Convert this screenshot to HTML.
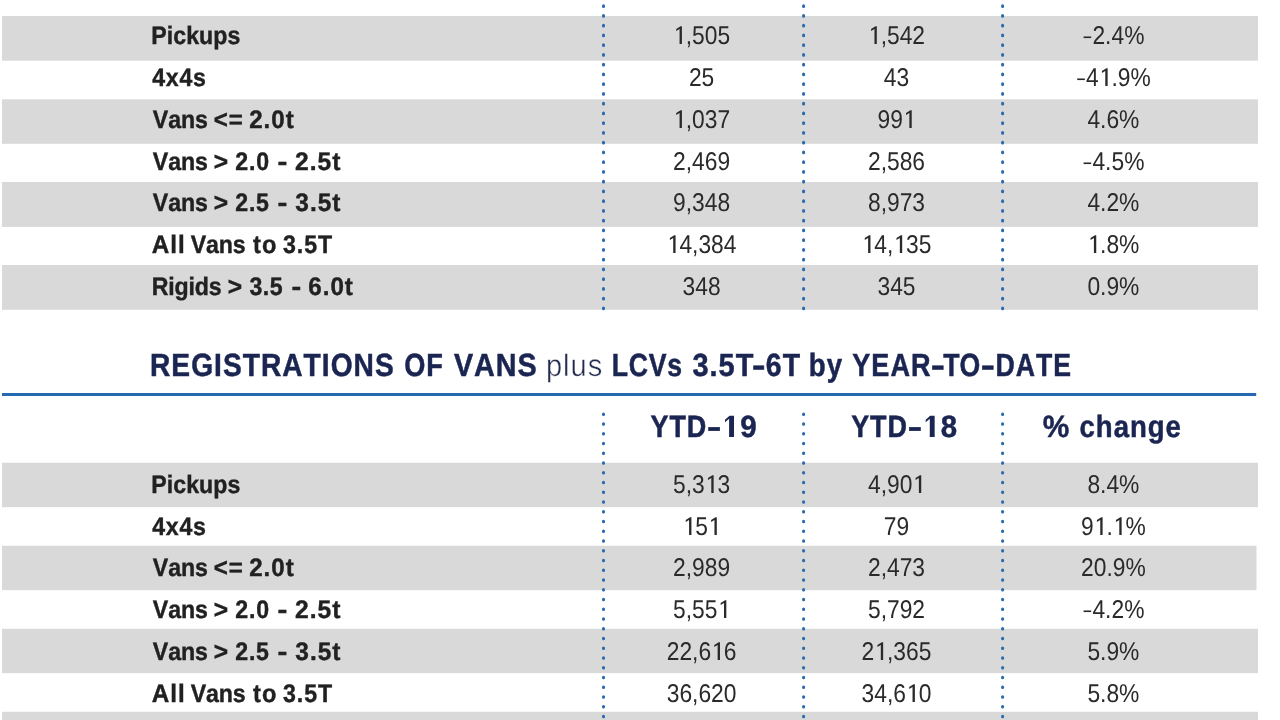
<!DOCTYPE html>
<html lang="en"><head><meta charset="utf-8"><title>Registrations of vans plus LCVs 3.5T-6T</title>
<style>
html,body{margin:0;padding:0;background:#fff;width:1280px;height:720px;overflow:hidden}
svg{display:block;position:absolute;left:0;top:0;will-change:transform}
text{font-family:"Liberation Sans",sans-serif;white-space:pre;font-kerning:none;text-rendering:geometricPrecision}
.lb{font-weight:700;fill:#212121;font-size:25.3px;stroke:#212121;stroke-width:0.4px}
.nm{font-weight:400;fill:#2a2a2a;font-size:25.7px}
.hd{font-weight:700;fill:#1b2552;font-size:32.1px;stroke:#1b2552;stroke-width:0.5px}
.hl{font-weight:400;fill:#232a4e;font-size:31px;stroke:#fff;stroke-width:0.45px}
.ch{font-weight:700;fill:#1b2552;font-size:30.8px;stroke:#1b2552;stroke-width:0.5px}
</style></head><body>
<svg width="1280" height="720" viewBox="0 0 1280 720">
<g fill="#d9d9d9">
<rect x="2.0" y="16.0" width="1256.0" height="44.7"/>
<rect x="2.0" y="99.3" width="1256.0" height="44.5"/>
<rect x="2.0" y="182.0" width="1256.0" height="44.9"/>
<rect x="2.0" y="265.0" width="1256.0" height="44.8"/>
<rect x="2.0" y="462.75" width="1256.0" height="44.4"/>
<rect x="2.0" y="545.75" width="1254.5" height="44.4"/>
<rect x="2.0" y="628.75" width="1256.0" height="44.4"/>
<rect x="2.0" y="711.75" width="1256.0" height="44.4"/>
</g>
<rect x="2" y="393" width="1254.2" height="3" fill="#2669b1"/>
<g fill="none" stroke="#2b6bb0" stroke-width="3.1" stroke-linecap="round" stroke-dasharray="0.5 9.25">
<path d="M603.50 5.9V309"/><path d="M603.50 414.05V724"/>
<path d="M803.60 5.9V309"/><path d="M803.60 414.05V724"/>
<path d="M1002.60 5.9V309"/><path d="M1002.60 414.05V724"/>
</g>
<g class="lb" transform="translate(151.35 44.00) scale(0.9150 1)" style="letter-spacing:0.040px"><text x="0.00">Pickups</text></g>
<g class="lb" transform="translate(152.25 86.00) scale(0.9150 1)" style="letter-spacing:0.802px"><text x="0.00">4x4s</text></g>
<g class="lb" transform="translate(152.74 128.00) scale(0.9150 1)" style="letter-spacing:-0.045px"><text x="0.00">Vans</text></g>
<g class="lb" transform="translate(213.69 128.00) scale(0.9508 1)" style="letter-spacing:1.052px"><text x="0.00">&lt;=</text></g>
<g class="lb" transform="translate(249.16 128.00) scale(0.9550 1)" style="letter-spacing:1.047px"><text x="0.00">2.0t</text></g>
<g class="lb" transform="translate(152.84 170.00) scale(0.9150 1)" style="letter-spacing:-0.081px"><text x="0.00">Vans</text></g>
<g class="lb" transform="translate(213.67 170.00) scale(0.9695 1)"><text x="0.00">&gt;</text></g>
<g class="lb" transform="translate(235.30 170.00) scale(0.9150 1)" style="letter-spacing:0.859px"><text x="0.00">2.0</text></g>
<g class="lb" transform="translate(277.55 170.00) scale(1.1675 1)"><text x="0.00">-</text></g>
<g class="lb" transform="translate(295.05 170.00) scale(0.9738 1)" style="letter-spacing:1.027px"><text x="0.00">2.5t</text></g>
<g class="lb" transform="translate(152.84 211.00) scale(0.9150 1)" style="letter-spacing:-0.081px"><text x="0.00">Vans</text></g>
<g class="lb" transform="translate(213.67 211.00) scale(0.9695 1)"><text x="0.00">&gt;</text></g>
<g class="lb" transform="translate(235.30 211.00) scale(0.9150 1)" style="letter-spacing:0.801px"><text x="0.00">2.5</text></g>
<g class="lb" transform="translate(277.55 211.00) scale(1.1675 1)"><text x="0.00">-</text></g>
<g class="lb" transform="translate(295.34 211.00) scale(0.9671 1)" style="letter-spacing:1.034px"><text x="0.00">3.5t</text></g>
<g class="lb" transform="translate(151.80 253.00) scale(0.9596 1)" style="letter-spacing:1.042px"><text x="0.00">All</text></g>
<g class="lb" transform="translate(190.74 253.00) scale(0.9150 1)" style="letter-spacing:-0.118px"><text x="0.00">Vans</text></g>
<g class="lb" transform="translate(253.01 253.00) scale(0.9344 1)" style="letter-spacing:1.070px"><text x="0.00">to</text></g>
<g class="lb" transform="translate(283.07 253.00) scale(0.9150 1)" style="letter-spacing:0.968px"><text x="0.00">3.5T</text></g>
<g class="lb" transform="translate(151.65 295.00) scale(0.9150 1)" style="letter-spacing:-0.140px"><text x="0.00">Rigids</text></g>
<g class="lb" transform="translate(227.67 295.00) scale(0.9695 1)"><text x="0.00">&gt;</text></g>
<g class="lb" transform="translate(249.47 295.00) scale(0.9150 1)" style="letter-spacing:0.543px"><text x="0.00">3.5</text></g>
<g class="lb" transform="translate(291.56 295.00) scale(1.1520 1)"><text x="0.00">-</text></g>
<g class="lb" transform="translate(308.21 295.00) scale(0.9561 1)" style="letter-spacing:1.046px"><text x="0.00">6.0t</text></g>
<g class="lb" transform="translate(151.35 493.00) scale(0.9150 1)" style="letter-spacing:0.040px"><text x="0.00">Pickups</text></g>
<g class="lb" transform="translate(152.25 535.00) scale(0.9150 1)" style="letter-spacing:0.802px"><text x="0.00">4x4s</text></g>
<g class="lb" transform="translate(152.74 576.00) scale(0.9150 1)" style="letter-spacing:-0.045px"><text x="0.00">Vans</text></g>
<g class="lb" transform="translate(213.69 576.00) scale(0.9508 1)" style="letter-spacing:1.052px"><text x="0.00">&lt;=</text></g>
<g class="lb" transform="translate(249.16 576.00) scale(0.9550 1)" style="letter-spacing:1.047px"><text x="0.00">2.0t</text></g>
<g class="lb" transform="translate(152.84 618.00) scale(0.9150 1)" style="letter-spacing:-0.081px"><text x="0.00">Vans</text></g>
<g class="lb" transform="translate(213.67 618.00) scale(0.9695 1)"><text x="0.00">&gt;</text></g>
<g class="lb" transform="translate(235.30 618.00) scale(0.9150 1)" style="letter-spacing:0.859px"><text x="0.00">2.0</text></g>
<g class="lb" transform="translate(277.55 618.00) scale(1.1675 1)"><text x="0.00">-</text></g>
<g class="lb" transform="translate(295.05 618.00) scale(0.9738 1)" style="letter-spacing:1.027px"><text x="0.00">2.5t</text></g>
<g class="lb" transform="translate(152.84 660.00) scale(0.9150 1)" style="letter-spacing:-0.081px"><text x="0.00">Vans</text></g>
<g class="lb" transform="translate(213.67 660.00) scale(0.9695 1)"><text x="0.00">&gt;</text></g>
<g class="lb" transform="translate(235.30 660.00) scale(0.9150 1)" style="letter-spacing:0.801px"><text x="0.00">2.5</text></g>
<g class="lb" transform="translate(277.55 660.00) scale(1.1675 1)"><text x="0.00">-</text></g>
<g class="lb" transform="translate(295.34 660.00) scale(0.9671 1)" style="letter-spacing:1.034px"><text x="0.00">3.5t</text></g>
<g class="lb" transform="translate(151.80 702.00) scale(0.9596 1)" style="letter-spacing:1.042px"><text x="0.00">All</text></g>
<g class="lb" transform="translate(190.74 702.00) scale(0.9150 1)" style="letter-spacing:-0.118px"><text x="0.00">Vans</text></g>
<g class="lb" transform="translate(253.01 702.00) scale(0.9344 1)" style="letter-spacing:1.070px"><text x="0.00">to</text></g>
<g class="lb" transform="translate(283.07 702.00) scale(0.9150 1)" style="letter-spacing:0.968px"><text x="0.00">3.5T</text></g>
<g class="nm" transform="translate(673.05 44.00) scale(0.8880 1)"><path transform="translate(0.00 0) scale(0.01255 -0.01255)" d="M585 0V1196L285 1026V1186L678 1409H795V0Z"/><text x="14.29">,505</text></g>
<g class="nm" transform="translate(867.95 44.00) scale(0.8880 1)"><path transform="translate(0.00 0) scale(0.01255 -0.01255)" d="M585 0V1196L285 1026V1186L678 1409H795V0Z"/><text x="14.29">,542</text></g>
<g class="nm" transform="translate(1082.35 44.00) scale(0.8880 1)"><path transform="translate(0.00 0) scale(0.01255 -0.01255)" d="M110 472H795V600H110Z"/><text x="11.36">2.4%</text></g>
<g class="nm" transform="translate(688.91 86.00) scale(0.8880 1)"><text x="0.00">25</text></g>
<g class="nm" transform="translate(883.81 86.00) scale(0.8880 1)"><text x="0.00">43</text></g>
<g class="nm" transform="translate(1076.00 86.00) scale(0.8880 1)"><path transform="translate(0.00 0) scale(0.01255 -0.01255)" d="M110 472H795V600H110Z"/><text x="11.36">4</text><path transform="translate(25.65 0) scale(0.01255 -0.01255)" d="M585 0V1196L285 1026V1186L678 1409H795V0Z"/><text x="39.94">.9%</text></g>
<g class="nm" transform="translate(673.05 128.00) scale(0.8880 1)"><path transform="translate(0.00 0) scale(0.01255 -0.01255)" d="M585 0V1196L285 1026V1186L678 1409H795V0Z"/><text x="14.29">,037</text></g>
<g class="nm" transform="translate(877.46 128.00) scale(0.8880 1)"><text x="0.00">99</text><path transform="translate(28.59 0) scale(0.01255 -0.01255)" d="M585 0V1196L285 1026V1186L678 1409H795V0Z"/></g>
<g class="nm" transform="translate(1087.39 128.00) scale(0.8880 1)"><text x="0.00">4.6%</text></g>
<g class="nm" transform="translate(673.05 170.00) scale(0.8880 1)"><text x="0.00">2,469</text></g>
<g class="nm" transform="translate(867.95 170.00) scale(0.8880 1)"><text x="0.00">2,586</text></g>
<g class="nm" transform="translate(1082.35 170.00) scale(0.8880 1)"><path transform="translate(0.00 0) scale(0.01255 -0.01255)" d="M110 472H795V600H110Z"/><text x="11.36">4.5%</text></g>
<g class="nm" transform="translate(673.05 211.00) scale(0.8880 1)"><text x="0.00">9,348</text></g>
<g class="nm" transform="translate(867.95 211.00) scale(0.8880 1)"><text x="0.00">8,973</text></g>
<g class="nm" transform="translate(1087.39 211.00) scale(0.8880 1)"><text x="0.00">4.2%</text></g>
<g class="nm" transform="translate(666.70 253.00) scale(0.8880 1)"><path transform="translate(0.00 0) scale(0.01255 -0.01255)" d="M585 0V1196L285 1026V1186L678 1409H795V0Z"/><text x="14.29">4,384</text></g>
<g class="nm" transform="translate(861.60 253.00) scale(0.8880 1)"><path transform="translate(0.00 0) scale(0.01255 -0.01255)" d="M585 0V1196L285 1026V1186L678 1409H795V0Z"/><text x="14.29">4,</text><path transform="translate(35.73 0) scale(0.01255 -0.01255)" d="M585 0V1196L285 1026V1186L678 1409H795V0Z"/><text x="50.02">35</text></g>
<g class="nm" transform="translate(1087.39 253.00) scale(0.8880 1)"><path transform="translate(0.00 0) scale(0.01255 -0.01255)" d="M585 0V1196L285 1026V1186L678 1409H795V0Z"/><text x="14.29">.8%</text></g>
<g class="nm" transform="translate(682.56 295.00) scale(0.8880 1)"><text x="0.00">348</text></g>
<g class="nm" transform="translate(877.46 295.00) scale(0.8880 1)"><text x="0.00">345</text></g>
<g class="nm" transform="translate(1087.39 295.00) scale(0.8880 1)"><text x="0.00">0.9%</text></g>
<g class="nm" transform="translate(673.05 493.00) scale(0.8880 1)"><text x="0.00">5,3</text><path transform="translate(35.73 0) scale(0.01255 -0.01255)" d="M585 0V1196L285 1026V1186L678 1409H795V0Z"/><text x="50.02">3</text></g>
<g class="nm" transform="translate(867.95 493.00) scale(0.8880 1)"><text x="0.00">4,90</text><path transform="translate(50.02 0) scale(0.01255 -0.01255)" d="M585 0V1196L285 1026V1186L678 1409H795V0Z"/></g>
<g class="nm" transform="translate(1087.39 493.00) scale(0.8880 1)"><text x="0.00">8.4%</text></g>
<g class="nm" transform="translate(682.56 535.00) scale(0.8880 1)"><path transform="translate(0.00 0) scale(0.01255 -0.01255)" d="M585 0V1196L285 1026V1186L678 1409H795V0Z"/><text x="14.29">5</text><path transform="translate(28.59 0) scale(0.01255 -0.01255)" d="M585 0V1196L285 1026V1186L678 1409H795V0Z"/></g>
<g class="nm" transform="translate(883.81 535.00) scale(0.8880 1)"><text x="0.00">79</text></g>
<g class="nm" transform="translate(1081.05 535.00) scale(0.8880 1)"><text x="0.00">9</text><path transform="translate(14.29 0) scale(0.01255 -0.01255)" d="M585 0V1196L285 1026V1186L678 1409H795V0Z"/><text x="28.59">.</text><path transform="translate(35.73 0) scale(0.01255 -0.01255)" d="M585 0V1196L285 1026V1186L678 1409H795V0Z"/><text x="50.02">%</text></g>
<g class="nm" transform="translate(673.05 576.00) scale(0.8880 1)"><text x="0.00">2,989</text></g>
<g class="nm" transform="translate(867.95 576.00) scale(0.8880 1)"><text x="0.00">2,473</text></g>
<g class="nm" transform="translate(1081.05 576.00) scale(0.8880 1)"><text x="0.00">20.9%</text></g>
<g class="nm" transform="translate(673.05 618.00) scale(0.8880 1)"><text x="0.00">5,55</text><path transform="translate(50.02 0) scale(0.01255 -0.01255)" d="M585 0V1196L285 1026V1186L678 1409H795V0Z"/></g>
<g class="nm" transform="translate(867.95 618.00) scale(0.8880 1)"><text x="0.00">5,792</text></g>
<g class="nm" transform="translate(1082.35 618.00) scale(0.8880 1)"><path transform="translate(0.00 0) scale(0.01255 -0.01255)" d="M110 472H795V600H110Z"/><text x="11.36">4.2%</text></g>
<g class="nm" transform="translate(666.70 660.00) scale(0.8880 1)"><text x="0.00">22,6</text><path transform="translate(50.02 0) scale(0.01255 -0.01255)" d="M585 0V1196L285 1026V1186L678 1409H795V0Z"/><text x="64.31">6</text></g>
<g class="nm" transform="translate(861.60 660.00) scale(0.8880 1)"><text x="0.00">2</text><path transform="translate(14.29 0) scale(0.01255 -0.01255)" d="M585 0V1196L285 1026V1186L678 1409H795V0Z"/><text x="28.59">,365</text></g>
<g class="nm" transform="translate(1087.39 660.00) scale(0.8880 1)"><text x="0.00">5.9%</text></g>
<g class="nm" transform="translate(666.70 702.00) scale(0.8880 1)"><text x="0.00">36,620</text></g>
<g class="nm" transform="translate(861.60 702.00) scale(0.8880 1)"><text x="0.00">34,6</text><path transform="translate(50.02 0) scale(0.01255 -0.01255)" d="M585 0V1196L285 1026V1186L678 1409H795V0Z"/><text x="64.31">0</text></g>
<g class="nm" transform="translate(1087.39 702.00) scale(0.8880 1)"><text x="0.00">5.8%</text></g>
<g class="hd" transform="translate(150.01 376.00) scale(0.8783 1)" style="letter-spacing:1.139px"><text x="0.00">REGISTRATIONS</text></g>
<g class="hd" transform="translate(404.19 376.00) scale(0.8459 1)" style="letter-spacing:1.182px"><text x="0.00">OF</text></g>
<g class="hd" transform="translate(453.90 376.00) scale(0.8961 1)" style="letter-spacing:1.116px"><text x="0.00">VANS</text></g>
<g class="hl" transform="translate(545.92 376.00) scale(0.9386 1)" style="letter-spacing:1.065px"><text x="0.00">plus</text></g>
<g class="hd" transform="translate(611.72 376.00) scale(0.8300 1)" style="letter-spacing:0.912px"><text x="0.00">LCVs</text></g>
<g class="hd" transform="translate(692.44 376.00) scale(0.9026 1)" style="letter-spacing:1.108px"><text x="0.00">3.5T</text></g>
<g class="hd" transform="translate(752.12 376.00) scale(1.2637 1)"><text x="0.00">-</text></g>
<g class="hd" transform="translate(765.86 376.00) scale(0.8862 1)" style="letter-spacing:1.128px"><text x="0.00">6T</text></g>
<g class="hd" transform="translate(808.78 376.00) scale(0.8615 1)" style="letter-spacing:1.161px"><text x="0.00">by</text></g>
<g class="hd" transform="translate(852.29 376.00) scale(0.8440 1)" style="letter-spacing:1.185px"><text x="0.00">YEAR</text></g>
<g class="hd" transform="translate(930.64 376.00) scale(1.3251 1)"><text x="0.00">-</text></g>
<g class="hd" transform="translate(943.20 376.00) scale(0.8300 1)" style="letter-spacing:-0.097px"><text x="0.00">TO</text></g>
<g class="hd" transform="translate(980.64 376.00) scale(1.3251 1)"><text x="0.00">-</text></g>
<g class="hd" transform="translate(995.47 376.00) scale(0.8306 1)" style="letter-spacing:1.204px"><text x="0.00">DATE</text></g>
<g class="ch" transform="translate(650.44 437.00) scale(0.8749 1)" style="letter-spacing:1.143px"><text x="0.00">YTD</text></g>
<g class="ch" transform="translate(707.12 437.00) scale(1.3938 1)"><text x="0.00">-</text></g>
<g class="ch" transform="translate(722.77 437.00) scale(0.9583 1)" style="letter-spacing:1.044px"><path transform="translate(0.00 0) scale(0.01504 -0.01504)" d="M440 0V1220L155 981V1144L470 1409H780V0Z"/><text x="18.17">9</text></g>
<g class="ch" transform="translate(851.14 437.00) scale(0.8749 1)" style="letter-spacing:1.143px"><text x="0.00">YTD</text></g>
<g class="ch" transform="translate(907.82 437.00) scale(1.3938 1)"><text x="0.00">-</text></g>
<g class="ch" transform="translate(923.48 437.00) scale(0.9522 1)" style="letter-spacing:1.050px"><path transform="translate(0.00 0) scale(0.01504 -0.01504)" d="M440 0V1220L155 981V1144L470 1409H780V0Z"/><text x="18.18">8</text></g>
<g class="ch" transform="translate(1042.76 437.00) scale(0.9687 1)"><text x="0.00">%</text></g>
<g class="ch" transform="translate(1079.52 437.00) scale(0.8942 1)" style="letter-spacing:1.118px"><text x="0.00">change</text></g>
</svg>
</body></html>
